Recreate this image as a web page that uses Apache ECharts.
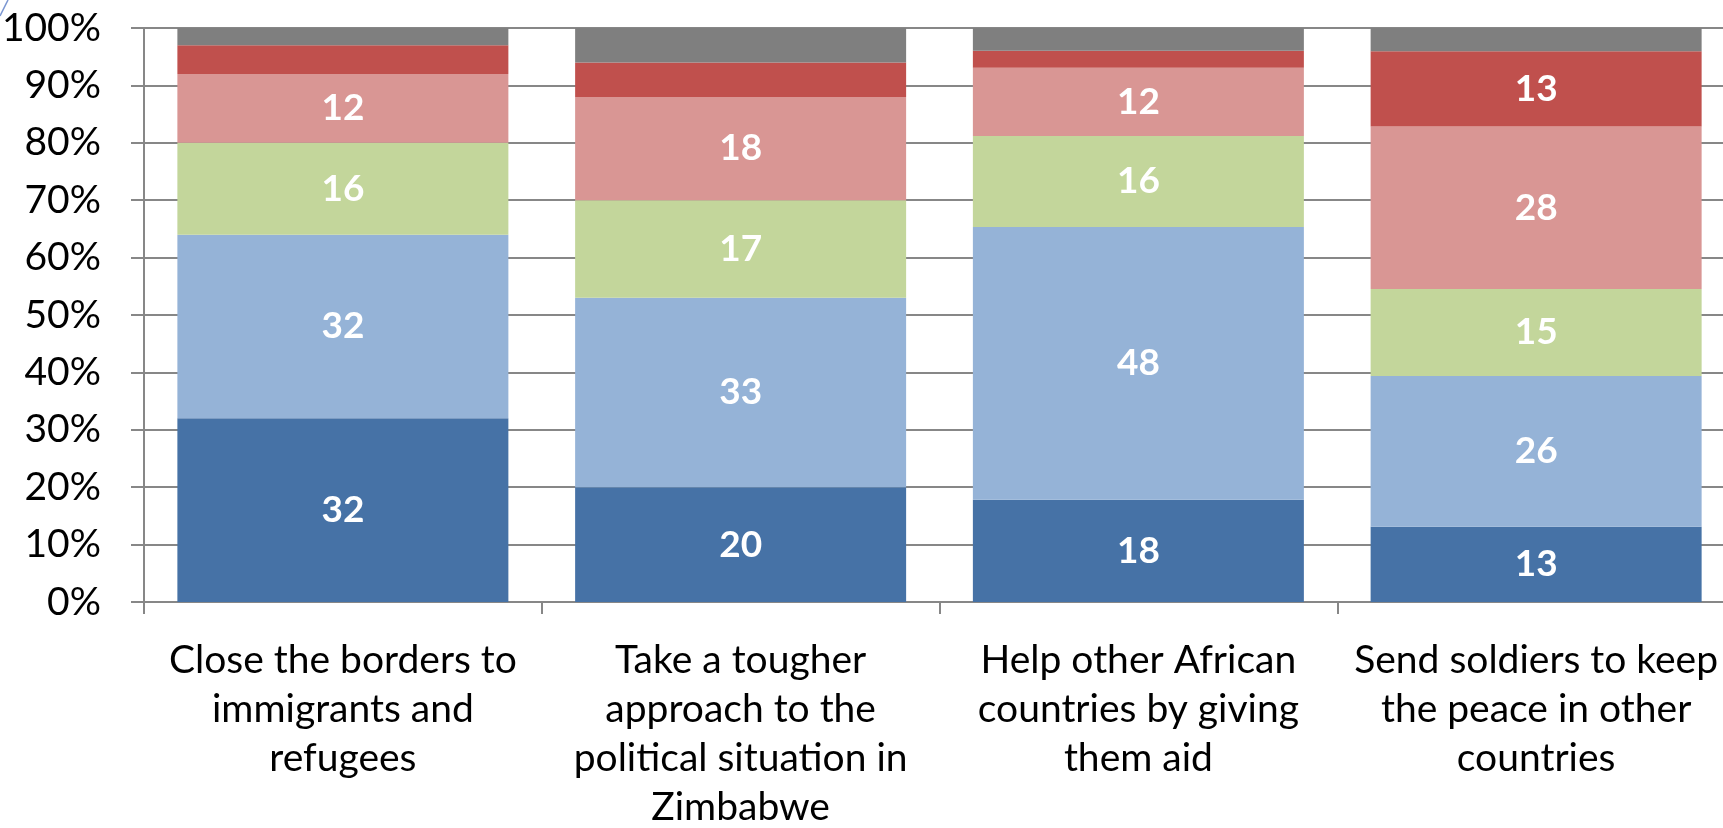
<!DOCTYPE html>
<html>
<head>
<meta charset="utf-8">
<script src="https://cdn.jsdelivr.net/npm/echarts@6/dist/echarts.min.js"></script>
<style>
  html, body { margin: 0; padding: 0; background: #ffffff; }
  #chart { width: 1723px; height: 828px; }
</style>
</head>
<body>
<div id="chart"></div>
<script>
// Policy options asked about
const categories = [
  'Close the borders to\nimmigrants and\nrefugees',
  'Take a tougher\napproach to the\npolitical situation in\nZimbabwe',
  'Help other African\ncountries by giving\nthem aid',
  'Send soldiers to keep\nthe peace in other\ncountries'
];

// Response shares (%), bottom to top of each stack
const stronglyAgree    = [32, 20, 18, 13];
const agree            = [32, 33, 48, 26];
const neutral          = [16, 17, 16, 15];
const disagree         = [12, 18, 12, 28];
const stronglyDisagree = [5, 6, 3, 13];
const dontKnow         = [3, 6, 4, 4];

const yTicks = [0, 10, 20, 30, 40, 50, 60, 70, 80, 90, 100];

const seriesDefs = [
  { name: 'Strongly agree', values: stronglyAgree, color: '#4672A6' },
  { name: 'Agree', values: agree, color: '#95B3D7' },
  { name: 'Neither', values: neutral, color: '#C3D69B' },
  { name: 'Disagree', values: disagree, color: '#D99694' },
  { name: 'Strongly disagree', values: stronglyDisagree, color: '#C0504D' },
  { name: "Don't know", values: dontKnow, color: '#7F7F7F' }
];

// Each column is scaled to a full 100% stack
const totals = categories.map((_, i) =>
  seriesDefs.reduce((s, d) => s + d.values[i], 0));

const chart = echarts.init(document.getElementById('chart'), null, { renderer: 'canvas' });

const axisGray = '#878787';
const fontFamily = 'Lato, "Open Sans", sans-serif';

chart.setOption({
  animation: false,
  backgroundColor: '#ffffff',
  // the plot runs a little past the right edge of the canvas
  grid: {
    left: 144, top: 28, width: 1591, height: 574,
    containLabel: false,
    outerBoundsMode: 'none'
  },
  xAxis: {
    type: 'category',
    data: categories,
    axisLine: { show: true, lineStyle: { color: axisGray, width: 2 } },
    axisTick: { show: true, interval: 0, length: 12, lineStyle: { color: axisGray, width: 2 } },
    axisLabel: {
      interval: 0,
      margin: 34,
      color: '#000000',
      fontFamily: fontFamily,
      fontSize: 39,
      lineHeight: 49,
      align: 'center'
    },
    splitLine: { show: false }
  },
  yAxis: {
    type: 'value',
    min: yTicks[0],
    max: yTicks[yTicks.length - 1],
    interval: 10,
    axisLine: { show: true, lineStyle: { color: axisGray, width: 2 } },
    axisTick: { show: true, length: 13, lineStyle: { color: axisGray, width: 2 } },
    axisLabel: {
      margin: 43,
      color: '#000000',
      fontFamily: fontFamily,
      fontSize: 39,
      formatter: '{value}%'
    },
    splitLine: { show: true, lineStyle: { color: axisGray, width: 2 } }
  },
  series: seriesDefs.map(d => ({
    name: d.name,
    type: 'bar',
    stack: 'total',
    barWidth: 331,
    itemStyle: { color: d.color },
    label: {
      position: 'inside',
      color: '#ffffff',
      fontFamily: fontFamily,
      fontWeight: 'bold',
      fontSize: 37,
      formatter: p => String(p.data.raw)
    },
    data: d.values.map((v, i) => ({
      value: v / totals[i] * 100,
      raw: v,
      label: { show: v >= 10 }
    }))
  })),
  graphic: [{
    type: 'line',
    shape: { x1: 0, y1: 16, x2: 8, y2: 0 },
    style: { stroke: '#7C97D2', lineWidth: 1.5 }
  }]
});
</script>
</body>
</html>
